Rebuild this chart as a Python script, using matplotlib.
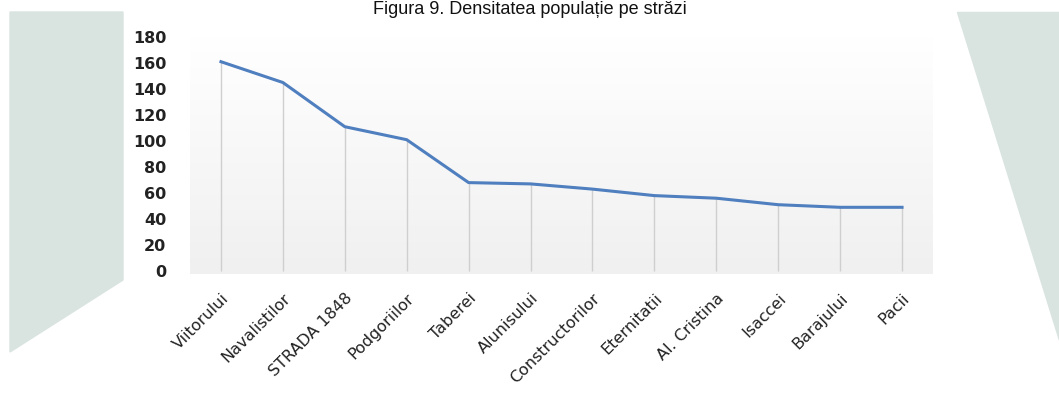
import matplotlib.pyplot as plt
import numpy as np
from matplotlib.patches import Polygon

streets = ["Viitorului", "Navalistilor", "STRADA 1848", "Podgoriilor", "Taberei",
           "Alunisului", "Constructorilor", "Eternitatii", "Al. Cristina",
           "Isaccei", "Barajului", "Pacii"]
population = [161, 145, 111, 101, 68, 67, 63, 58, 56, 51, 49, 49]
yticks = list(range(0, 181, 20))

W, H = 1059, 401
fig = plt.figure(figsize=(W / 100, H / 100), dpi=100)

def px(pts):
    return [(x / W, 1 - y / H) for x, y in pts]

shade = '#d9e4e1'
fig.patches.append(Polygon(px([(10, 12), (123, 12), (123, 280), (10, 352)]),
                           closed=True, transform=fig.transFigure, color=shade, zorder=0))
fig.patches.append(Polygon(px([(957, 12), (1059, 12), (1059, 340)]),
                           closed=True, transform=fig.transFigure, color=shade, zorder=0))

ax = fig.add_axes([190 / W, 1 - 274 / H, (933 - 190) / W, (274 - 37) / H])
ax.set_facecolor('none')
grad = np.linspace(1, 0, 256).reshape(-1, 1)
ax.imshow(grad, extent=[0, 1, 0, 1], transform=ax.transAxes, aspect='auto',
          cmap=plt.matplotlib.colors.LinearSegmentedColormap.from_list('g', ['#f0f0f0', '#ffffff']),
          zorder=0)

x = np.arange(len(streets))
ax.vlines(x, 0, population, color='#cfcfcf', linewidth=1, zorder=1)
ax.plot(x, population, color='#4f7fbf', linewidth=2.2, zorder=2)

ax.set_xlim(-0.5, len(streets) - 0.5)
ax.set_ylim(-2.3, 180)
ax.set_yticks(yticks)
ax.set_yticklabels([str(v) for v in yticks], fontsize=11.5, fontweight='bold', color='#222222')
ax.set_xticks(x)
ax.set_xticklabels(streets, rotation=45, ha='right', rotation_mode='anchor',
                   fontsize=11.5, color='#222222')
ax.tick_params(axis='x', length=0, pad=12)
ax.tick_params(axis='y', length=0, pad=17)
for s in ax.spines.values():
    s.set_visible(False)

ax.set_ylabel("nr. populație", fontsize=12, color='#333333')
ax.yaxis.set_label_coords(-0.118, 0.57)

fig.text(0.5, 1 - 9 / H, "Figura 9. Densitatea populație pe străzi", ha='center', va='center',
         fontsize=13, family='Liberation Sans', color='#111111')

fig.savefig('out.png', dpi=100)
